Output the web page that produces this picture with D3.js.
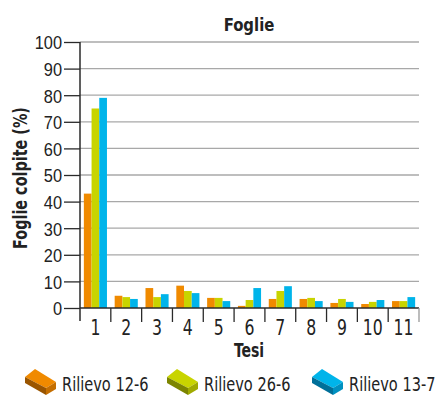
<!DOCTYPE html>
<html>
<head>
<meta charset="utf-8">
<script src="https://cdn.jsdelivr.net/npm/d3@7"></script>
<style>
  html, body { margin: 0; padding: 0; background: #fff; }
  svg { display: block; font-family: "Liberation Sans Narrow", "DejaVu Sans Condensed", "Arial Narrow", sans-serif; }
</style>
</head>
<body>
<svg id="chart" width="442" height="398"></svg>
<script>
// Treatments (Tesi) on the x axis
const categories = ["1", "2", "3", "4", "5", "6", "7", "8", "9", "10", "11"];
// Survey dates
const seriesNames = ["Rilievo 12-6", "Rilievo 26-6", "Rilievo 13-7"];
// Percentage of leaves hit, one array per survey
const rilievo12_6 = [43, 4.6, 7.5, 8.4, 3.8, 0.8, 3.4, 3.4, 1.9, 1.5, 2.6];
const rilievo26_6 = [75, 4.1, 4.1, 6.4, 3.8, 3.0, 6.4, 3.8, 3.4, 2.3, 2.6];
const rilievo13_7 = [79, 3.4, 5.2, 5.6, 2.6, 7.5, 8.2, 2.6, 2.3, 3.0, 4.1];
const yTicks = [0, 10, 20, 30, 40, 50, 60, 70, 80, 90, 100];

const seriesValues = [rilievo12_6, rilievo26_6, rilievo13_7];
const colors = ["#f08a00", "#c8d400", "#00b4ea"];
const sideColors = ["#c46e00", "#a0aa00", "#0090c0"];
const frontColors = ["#9a5500", "#7c8500", "#006f99"];
const textColor = "#222";

const svg = d3.select("#chart");
const plotLeft = 80, plotRight = 419, plotTop = 42, plotBottom = 308;

// Narrow the glyphs horizontally to get a condensed look
function squeeze(sel, factor) {
  sel.each(function () {
    const w = this.getComputedTextLength();
    d3.select(this).attr("textLength", w * factor).attr("lengthAdjust", "spacingAndGlyphs");
  });
}

const x = d3.scaleBand().domain(categories).range([plotLeft, plotRight]).paddingInner(0).paddingOuter(0);
const xs = d3.scaleBand().domain(seriesNames).range([0, x.bandwidth()]).paddingInner(0).paddingOuter(0.5);
const y = d3.scaleLinear().domain([0, 100]).range([plotBottom, plotTop]);

// Horizontal gridlines
svg.append("g").selectAll("line").data(yTicks.filter(d => d > 0)).join("line")
  .attr("x1", plotLeft).attr("x2", plotRight)
  .attr("y1", d => y(d)).attr("y2", d => y(d))
  .attr("stroke", "#a8a8a8").attr("stroke-width", 1.3);

// Bars
const rows = categories.map((c, i) => ({ c, vals: seriesValues.map((s, k) => ({ k, name: seriesNames[k], v: s[i] })) }));
const groups = svg.append("g").selectAll("g").data(rows).join("g")
  .attr("transform", d => `translate(${x(d.c)},0)`);
groups.selectAll("rect").data(d => d.vals).join("rect")
  .attr("x", d => xs(d.name))
  .attr("width", xs.bandwidth())
  .attr("y", d => y(d.v))
  .attr("height", d => y(0) - y(d.v))
  .attr("fill", d => colors[d.k]);

// Y axis with ticks extending left
const yAxis = d3.axisLeft(y).tickValues(yTicks).tickSize(16).tickPadding(2).tickSizeOuter(0);
const gy = svg.append("g").attr("transform", `translate(${plotLeft},0)`).call(yAxis);
gy.select(".domain").remove();
gy.selectAll(".tick line").attr("stroke", "#2a2a2a").attr("stroke-width", 1.3);
gy.selectAll(".tick text").attr("font-size", 19).attr("fill", textColor).attr("dy", "0.36em")
  .attr("font-family", "inherit")
  .call(squeeze, 0.86);

// Vertical axis line reaching below zero
svg.append("line").attr("x1", plotLeft).attr("x2", plotLeft).attr("y1", plotTop).attr("y2", plotBottom + 13)
  .attr("stroke", "#2a2a2a").attr("stroke-width", 1.5);

// Zero baseline
svg.append("line").attr("x1", plotLeft).attr("x2", plotRight).attr("y1", y(0)).attr("y2", y(0))
  .attr("stroke", "#2a2a2a").attr("stroke-width", 1.5);

// Category separators below baseline
const bounds = categories.map(c => x(c)).concat([plotRight]).slice(1);
svg.append("g").selectAll("line").data(bounds).join("line")
  .attr("x1", d => d).attr("x2", d => d)
  .attr("y1", y(0)).attr("y2", y(0) + 14)
  .attr("stroke", (d, i) => i === bounds.length - 1 ? "#999" : "#2a2a2a").attr("stroke-width", 1.3);

// Category labels
svg.append("g").selectAll("text").data(categories).join("text")
  .attr("x", d => x(d) + x.bandwidth() / 2)
  .attr("y", 335)
  .attr("text-anchor", "middle")
  .attr("font-size", 21).attr("fill", textColor)
  .text(d => d)
  .call(squeeze, 0.83);

// Titles
svg.append("text").attr("x", 249).attr("y", 31).attr("text-anchor", "middle")
  .attr("font-size", 18).attr("font-weight", "bold").attr("fill", textColor).text("Foglie")
  .call(squeeze, 0.92);
svg.append("text").attr("x", 249).attr("y", 357).attr("text-anchor", "middle")
  .attr("font-size", 19).attr("font-weight", "bold").attr("fill", textColor).text("Tesi")
  .call(squeeze, 0.82);
svg.append("text").attr("transform", "translate(27,178) rotate(-90)").attr("text-anchor", "middle")
  .attr("font-size", 20).attr("font-weight", "bold").attr("fill", textColor).text("Foglie colpite (%)")
  .call(squeeze, 0.8);

// Legend with brick icons
const legendX = [25, 167, 312];
const leg = svg.append("g").selectAll("g").data(seriesNames).join("g")
  .attr("transform", (d, i) => `translate(${legendX[i]},369)`);
// top face, front face, side face
leg.append("path").attr("d", "M0,8 L10,0 L31,13 L21,19 Z").attr("fill", (d, i) => colors[i]);
leg.append("path").attr("d", "M0,8 L21,19 L21,26 L0,14 Z").attr("fill", (d, i) => frontColors[i]);
leg.append("path").attr("d", "M21,19 L31,13 L31,20 L21,26 Z").attr("fill", (d, i) => sideColors[i]);
leg.append("text").attr("x", 37).attr("y", 22)
  .attr("font-size", 20).attr("fill", textColor).text(d => d)
  .call(squeeze, 0.81);
</script>
</body>
</html>
